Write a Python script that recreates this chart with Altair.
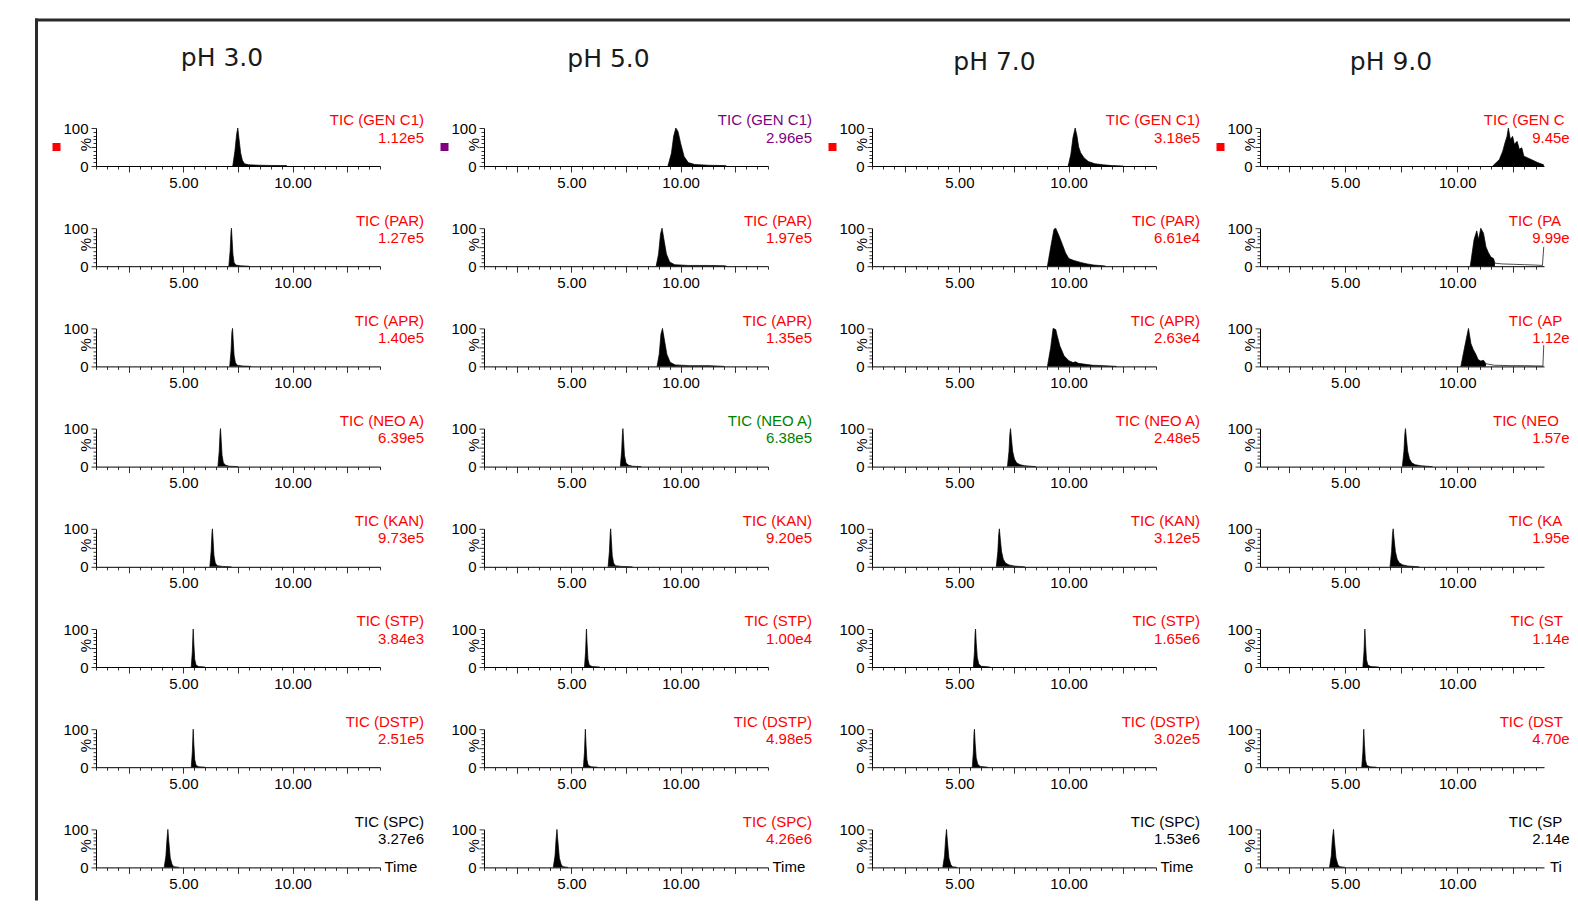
import altair as alt
import pandas as pd

# ---------------- data ----------------
PH = ["pH 3.0", "pH 5.0", "pH 7.0", "pH 9.0"]
COMPOUNDS = ["GEN C1", "PAR", "APR", "NEO A", "KAN", "STP", "DSTP", "SPC"]

# base-peak intensity printed under each trace name (rows = compounds, cols = pH)
TIC_INTENSITY = [
    ["1.12e5", "2.96e5", "3.18e5", "9.45e5"],
    ["1.27e5", "1.97e5", "6.61e4", "9.99e4"],
    ["1.40e5", "1.35e5", "2.63e4", "1.12e5"],
    ["6.39e5", "6.38e5", "2.48e5", "1.57e5"],
    ["9.73e5", "9.20e5", "3.12e5", "1.95e5"],
    ["3.84e3", "1.00e4", "1.65e6", "1.14e6"],
    ["2.51e5", "4.98e5", "3.02e5", "4.70e5"],
    ["3.27e6", "4.26e6", "1.53e6", "2.14e6"],
]
LABEL_COLOR = [
    ["red", "purple", "red", "red"],
    ["red", "red", "red", "red"],
    ["red", "red", "red", "red"],
    ["red", "green", "red", "red"],
    ["red", "red", "red", "red"],
    ["red", "red", "red", "red"],
    ["red", "red", "red", "red"],
    ["black", "red", "black", "black"],
]
MARKER_COLOR = ["red", "purple", "red", "red"]
TIME_RANGE = [[1.0, 14.0], [1.0, 14.0], [1.0, 14.0], [1.2, 13.87]]

# integrated (filled) peak traces: (time, %)
PEAKS = {
    ("GEN C1", "pH 3.0"): [(7.26, 0), (7.36, 40), (7.44, 85), (7.49, 100), (7.55, 70), (7.62, 35), (7.70, 15), (7.80, 6), (8.0, 3), (8.5, 2), (9.0, 1.5), (9.7, 1), (9.75, 0)],
    ("GEN C1", "pH 5.0"): [(9.42, 0), (9.58, 34), (9.68, 78), (9.78, 100), (9.88, 91), (10.0, 60), (10.16, 25), (10.35, 9), (10.65, 4), (11.27, 2), (12.03, 1), (12.1, 0)],
    ("GEN C1", "pH 7.0"): [(9.98, 0), (10.1, 30), (10.2, 75), (10.3, 100), (10.38, 80), (10.46, 50), (10.55, 35), (10.7, 22), (10.9, 12), (11.2, 6), (11.6, 3), (12.0, 1), (12.5, 0)],
    ("GEN C1", "pH 9.0"): [(11.58, 0), (11.88, 17), (12.03, 39), (12.13, 61), (12.22, 78), (12.28, 100), (12.37, 70), (12.47, 78), (12.55, 57), (12.67, 65), (12.77, 44), (12.88, 48), (12.97, 26), (13.30, 17), (13.59, 9), (13.86, 3)],
    ("PAR", "pH 3.0"): [(7.08, 0), (7.14, 40), (7.18, 90), (7.20, 100), (7.23, 70), (7.27, 30), (7.32, 10), (7.40, 3), (7.6, 1), (8.0, 0)],
    ("PAR", "pH 5.0"): [(8.88, 0), (8.99, 32), (9.08, 85), (9.15, 100), (9.22, 76), (9.35, 32), (9.50, 11), (9.73, 4), (10.35, 2), (11.27, 2), (12.03, 1), (12.1, 0)],
    ("PAR", "pH 7.0"): [(9.03, 0), (9.18, 50), (9.33, 97), (9.41, 100), (9.56, 80), (9.71, 58), (9.86, 35), (10.01, 20), (10.24, 15), (10.55, 10), (10.85, 6), (11.15, 3), (11.6, 1), (11.7, 0)],
    ("PAR", "pH 9.0"): [(10.58, 0), (10.75, 70), (10.87, 93), (10.95, 70), (11.05, 100), (11.17, 87), (11.28, 51), (11.38, 37), (11.50, 24), (11.62, 20), (11.68, 8)],
    ("APR", "pH 3.0"): [(7.12, 0), (7.18, 40), (7.22, 90), (7.25, 100), (7.28, 70), (7.32, 30), (7.38, 10), (7.46, 3), (7.7, 1), (8.1, 0)],
    ("APR", "pH 5.0"): [(8.92, 0), (9.02, 32), (9.10, 85), (9.17, 100), (9.24, 76), (9.37, 32), (9.52, 11), (9.75, 4), (10.4, 2), (11.3, 2), (12.0, 0)],
    ("APR", "pH 7.0"): [(9.03, 0), (9.18, 50), (9.29, 100), (9.41, 97), (9.48, 80), (9.60, 54), (9.79, 28), (10.01, 15), (10.2, 10), (10.32, 12), (10.45, 8), (10.7, 6), (11.1, 3), (11.6, 2), (12.2, 0)],
    ("APR", "pH 9.0"): [(10.16, 0), (10.31, 45), (10.43, 80), (10.50, 100), (10.61, 60), (10.71, 45), (10.83, 32), (10.93, 18), (11.05, 14), (11.17, 16), (11.28, 7)],
    ("NEO A", "pH 3.0"): [(6.58, 0), (6.64, 40), (6.68, 90), (6.70, 100), (6.73, 70), (6.77, 30), (6.83, 10), (6.92, 4), (7.1, 1), (7.5, 0)],
    ("NEO A", "pH 5.0"): [(7.24, 0), (7.30, 40), (7.34, 90), (7.36, 100), (7.39, 70), (7.43, 30), (7.50, 10), (7.60, 4), (7.8, 1), (8.2, 0)],
    ("NEO A", "pH 7.0"): [(7.20, 0), (7.27, 40), (7.31, 85), (7.34, 100), (7.38, 75), (7.44, 40), (7.52, 20), (7.62, 10), (7.78, 5), (8.0, 2), (8.5, 0)],
    ("NEO A", "pH 9.0"): [(7.55, 0), (7.62, 40), (7.66, 85), (7.69, 100), (7.73, 75), (7.79, 40), (7.87, 20), (7.97, 10), (8.12, 5), (8.4, 2), (8.9, 0)],
    ("KAN", "pH 3.0"): [(6.21, 0), (6.27, 40), (6.31, 90), (6.33, 100), (6.36, 70), (6.40, 30), (6.46, 10), (6.55, 3), (6.8, 1), (7.2, 0)],
    ("KAN", "pH 5.0"): [(6.68, 0), (6.74, 40), (6.78, 90), (6.80, 100), (6.83, 70), (6.87, 30), (6.93, 10), (7.02, 3), (7.3, 1), (7.8, 0)],
    ("KAN", "pH 7.0"): [(6.69, 0), (6.76, 40), (6.80, 85), (6.83, 100), (6.87, 75), (6.93, 40), (7.01, 20), (7.11, 10), (7.27, 5), (7.5, 2), (8.0, 0)],
    ("KAN", "pH 9.0"): [(7.00, 0), (7.07, 40), (7.11, 85), (7.14, 100), (7.18, 75), (7.24, 40), (7.32, 20), (7.42, 10), (7.57, 5), (7.8, 2), (8.3, 0)],
    ("STP", "pH 3.0"): [(5.36, 0), (5.41, 40), (5.44, 90), (5.45, 100), (5.48, 60), (5.52, 20), (5.58, 5), (5.7, 1), (6.0, 0)],
    ("STP", "pH 5.0"): [(5.60, 0), (5.65, 40), (5.68, 90), (5.69, 100), (5.72, 60), (5.76, 20), (5.82, 5), (5.95, 1), (6.3, 0)],
    ("STP", "pH 7.0"): [(5.64, 0), (5.69, 40), (5.72, 90), (5.74, 100), (5.77, 65), (5.82, 25), (5.89, 8), (6.0, 2), (6.4, 0)],
    ("STP", "pH 9.0"): [(5.79, 0), (5.84, 40), (5.87, 90), (5.88, 100), (5.91, 60), (5.95, 20), (6.01, 5), (6.15, 1), (6.5, 0)],
    ("DSTP", "pH 3.0"): [(5.36, 0), (5.41, 40), (5.44, 90), (5.45, 100), (5.48, 60), (5.52, 20), (5.58, 5), (5.7, 1), (6.0, 0)],
    ("DSTP", "pH 5.0"): [(5.55, 0), (5.60, 40), (5.63, 90), (5.64, 100), (5.67, 60), (5.71, 20), (5.77, 5), (5.9, 1), (6.2, 0)],
    ("DSTP", "pH 7.0"): [(5.59, 0), (5.64, 40), (5.67, 90), (5.69, 100), (5.72, 65), (5.77, 25), (5.84, 8), (5.95, 2), (6.3, 0)],
    ("DSTP", "pH 9.0"): [(5.74, 0), (5.79, 40), (5.82, 90), (5.83, 100), (5.86, 60), (5.90, 20), (5.96, 5), (6.1, 1), (6.4, 0)],
    ("SPC", "pH 3.0"): [(4.12, 0), (4.20, 30), (4.25, 75), (4.29, 100), (4.33, 70), (4.40, 25), (4.48, 8), (4.56, 2), (4.8, 0)],
    ("SPC", "pH 5.0"): [(4.17, 0), (4.25, 30), (4.30, 75), (4.34, 100), (4.38, 70), (4.45, 25), (4.53, 8), (4.61, 2), (4.85, 0)],
    ("SPC", "pH 7.0"): [(4.24, 0), (4.32, 30), (4.37, 75), (4.41, 100), (4.45, 70), (4.52, 25), (4.60, 8), (4.68, 2), (4.9, 0)],
    ("SPC", "pH 9.0"): [(4.30, 0), (4.38, 30), (4.43, 75), (4.48, 100), (4.52, 70), (4.59, 25), (4.67, 8), (4.75, 2), (5.0, 0)],
}
# non-integrated parts of the trace (drawn as a thin line only)
TRACES = {
    ("PAR", "pH 9.0"): [(11.68, 8), (12.0, 6), (12.5, 5), (13.0, 4), (13.5, 3), (13.80, 2), (13.86, 51)],
    ("APR", "pH 9.0"): [(11.28, 7), (11.65, 3), (12.40, 2), (13.0, 2), (13.82, 1), (13.86, 56)],
}

# ---------------- layout / style ----------------
HEX = {"red": "#ff0000", "purple": "#800080", "green": "#008000", "black": "#000000"}
W, H = 284, 38
COL_STEP = 388
ROW_STEP = 100.2
FONT = "Liberation Sans"
TITLE_DX = [126, 124.5, 122.5, 131]
TITLE_DY = [-62.5, -60.8, -57.7, -57.7]
LABEL_RIGHT = [328, 328, 328, 318]
PAGE_RIGHT = 1570                      # right edge of the drawable page (8px body margin)
ORIGIN_X = 96                          # page x of the first panel's plot area
VISIBLE_RIGHT = PAGE_RIGHT - ORIGIN_X - 3 * COL_STEP   # in column-4 panel coords

ARIAL = {" ": 278, "(": 333, ")": 333, ".": 278, "A": 667, "C": 722, "D": 722, "E": 667,
         "G": 778, "I": 278, "K": 667, "N": 722, "P": 667, "R": 722, "S": 667, "T": 611,
         "O": 778, "e": 556, "i": 222, "m": 833}


def text_w(s, size=15):
    return sum(ARIAL.get(ch, 556) for ch in s) * size / 1000.0


def x_axis(c):
    lo, hi = TIME_RANGE[c]
    vals = [k / 2 for k in range(int(lo * 2 + 0.999), int(hi * 2) + 1)]
    return alt.Axis(
        values=vals, title=None, grid=False,
        labelExpr="datum.value === 5 || datum.value === 10 ? format(datum.value, '.2f') : ''",
        labelFont=FONT, labelFontSize=15, labelColor="black", labelPadding=3,
        labelOverlap=False, labelFlush=False,
        tickSize={"condition": {"test": "datum.value % 2.5 === 0", "value": 6}, "value": 3},
        tickColor="#333333", tickWidth=1, domainColor="black", domainWidth=1,
    )


def y_axis():
    return alt.Axis(
        values=list(range(0, 101, 10)), grid=False,
        labelExpr="datum.value === 0 || datum.value === 100 ? datum.label : ''",
        labelFont=FONT, labelFontSize=15, labelColor="black", labelPadding=3,
        labelOverlap=False, labelFlush=False, labelBaseline="middle",
        tickSize={"condition": {"test": "datum.value % 50 === 0", "value": 5}, "value": 3},
        tickColor="#333333", tickWidth=1, domainColor="black", domainWidth=1,
        title="%", titleFont=FONT, titleFontSize=15, titleFontWeight="normal",
        titleColor="black", titleAngle=270, titleX=-11, titleY=16,
        titleAlign="center", titleBaseline="middle",
    )


def text_layer(s, x, y, color, align="right", size=15, font=FONT, baseline="middle", limit=None):
    kw = dict(align=align, baseline=baseline, font=font, fontSize=size, color=color)
    if limit is not None:
        kw.update(limit=limit, ellipsis="\u200b")
    return alt.Chart(alt.Data(values=[{"s": s}])).mark_text(**kw).encode(
        x=alt.value(x), y=alt.value(y), text="s:N")


def panel(r, c):
    comp, ph = COMPOUNDS[r], PH[c]
    rows = [{"t": t, "p": p, "kind": "peak"} for t, p in PEAKS[(comp, ph)]]
    rows += [{"t": t, "p": p, "kind": "trace"} for t, p in TRACES.get((comp, ph), [])]
    df = pd.DataFrame(rows)
    base = alt.Chart(df).encode(
        x=alt.X("t:Q", scale=alt.Scale(domain=TIME_RANGE[c], nice=False, zero=False), axis=x_axis(c)),
        y=alt.Y("p:Q", scale=alt.Scale(domain=[0, 100], nice=False), axis=y_axis()),
    )
    area = base.transform_filter("datum.kind === 'peak'").mark_area(color="black", opacity=1)
    line = base.mark_line(color="black", strokeWidth=0.7).encode(detail="kind:N")
    layers = [area, line]

    color = HEX[LABEL_COLOR[r][c]]
    name = f"TIC ({comp})"
    val = TIC_INTENSITY[r][c]
    if c < 3:
        layers.append(text_layer(name, LABEL_RIGHT[c], -7.7, color))
        layers.append(text_layer(val, LABEL_RIGHT[c], 9.6, color))
        if r == 7:
            layers.append(text_layer("Time", W + 4.5, H, "black", align="left"))
    else:
        for s, yy in [(name, -7.7), (val, 9.6)]:
            start = LABEL_RIGHT[c] - text_w(s)
            layers.append(text_layer(s, start, yy, color, align="left", limit=VISIBLE_RIGHT + 0.5 - start))
        if r == 7:
            layers.append(text_layer("Time", W + 6, H, "black", align="left", limit=VISIBLE_RIGHT - W - 6))

    if r == 0:
        layers.append(text_layer(ph, TITLE_DX[c], TITLE_DY[c], "#1a1a1a", align="center",
                                 size=25, font="DejaVu Sans", baseline="alphabetic"))
        layers.append(
            alt.Chart(alt.Data(values=[{"s": 1}])).mark_square(size=64, color=HEX[MARKER_COLOR[c]], opacity=1)
            .encode(x=alt.value(-39.5), y=alt.value(19))
        )
        if c == 0:
            frame = alt.Data(values=[{"s": 1}])
            layers.append(alt.Chart(frame).mark_rect(color="#2b2b2b").encode(
                x=alt.value(-61), x2=alt.value(-58), y=alt.value(-109.4), y2=alt.value(772.6)))
            layers.append(alt.Chart(frame).mark_rect(color="#2b2b2b").encode(
                x=alt.value(-61), x2=alt.value(PAGE_RIGHT - ORIGIN_X), y=alt.value(-109.4), y2=alt.value(-106.4)))
    return alt.layer(*layers).properties(width=W, height=H)


panels = [panel(r, c) for r in range(len(COMPOUNDS)) for c in range(len(PH))]

chart = alt.concat(
    *panels, columns=4,
    spacing={"row": ROW_STEP - H, "column": COL_STEP - W},
    bounds="flush",
    padding={"left": 27, "top": 10, "right": 0, "bottom": 0},
    background="white",
).configure_view(strokeWidth=0)

chart.save("out.html", embed_options={"renderer": "svg", "actions": False})
